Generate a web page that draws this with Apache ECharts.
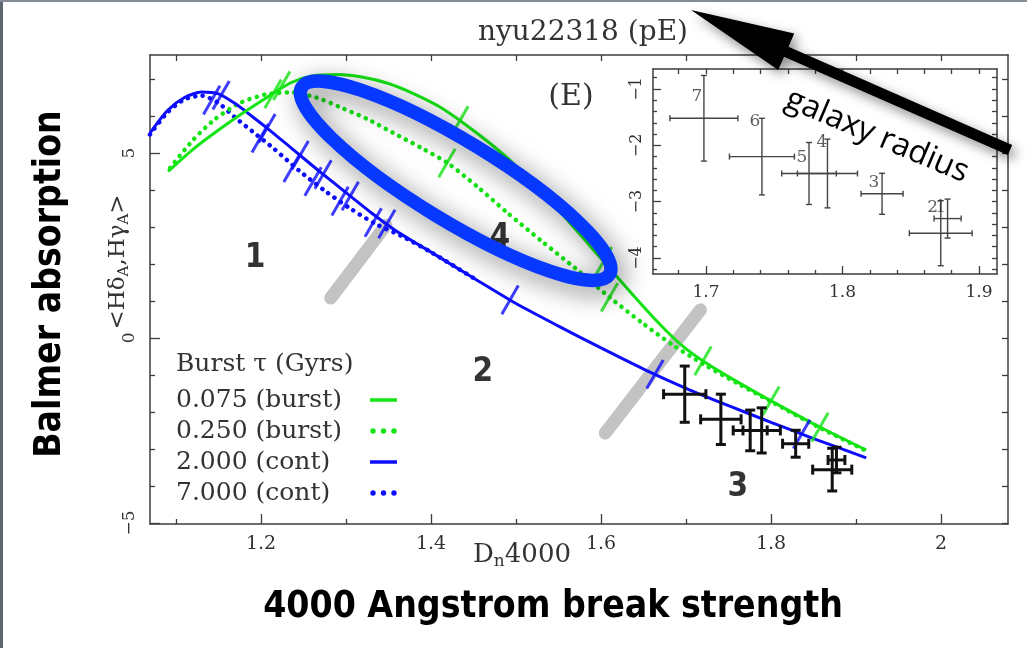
<!DOCTYPE html>
<html>
<head>
<meta charset="utf-8">
<title>nyu22318 (pE)</title>
<script src="https://cdn.jsdelivr.net/npm/echarts@6/dist/echarts.min.js"></script>
<style>
  html, body { margin: 0; padding: 0; background: #fff; }
  #chart { width: 1027px; height: 648px; }
</style>
</head>
<body>
<div id="chart"></div>
<script>
// model tracks, [Dn4000, <HdA,HgA>]
const burst075 = [[1.0906,4.5],[1.12,5.1],[1.15,5.62],[1.18,6.1],[1.21,6.55],[1.235,6.9],[1.26,7.08],
  [1.29,7.12],[1.32,7.05],[1.35,6.88],[1.38,6.6],[1.41,6.25],[1.44,5.78],[1.47,5.25],[1.5,4.65],
  [1.55,3.45],[1.6,2.15],[1.64,1.1],[1.67,0.35],[1.695,-0.2],[1.72,-0.62],[1.76,-1.18],[1.8,-1.7],
  [1.855,-2.38],[1.912,-3.03]];
const burst250 = [[1.093,4.6],[1.12,5.35],[1.145,5.9],[1.175,6.35],[1.205,6.58],[1.235,6.64],
  [1.265,6.5],[1.295,6.22],[1.325,5.92],[1.355,5.55],[1.39,5.12],[1.42,4.72],[1.455,4.08],[1.49,3.38],
  [1.53,2.62],[1.57,1.88],[1.61,1.1],[1.65,0.38],[1.685,-0.2],[1.72,-0.7],[1.76,-1.22],[1.8,-1.72],
  [1.855,-2.4],[1.912,-3.05]];
const cont2000 = [[1.0694,5.54],[1.09,6.15],[1.11,6.5],[1.13,6.65],[1.15,6.6],[1.17,6.33],[1.19,5.98],
  [1.21,5.62],[1.24,5.05],[1.27,4.48],[1.3,3.93],[1.33,3.38],[1.36,2.88],[1.4,2.32],[1.45,1.62],
  [1.5,0.93],[1.55,0.32],[1.6,-0.27],[1.65,-0.84],[1.7,-1.36],[1.75,-1.83],[1.8,-2.28],[1.85,-2.72],
  [1.912,-3.24]];
const cont7000 = [[1.0694,5.5],[1.09,6.1],[1.11,6.45],[1.13,6.55],[1.15,6.35],[1.17,5.95],[1.19,5.58],
  [1.215,5.12],[1.245,4.52],[1.275,3.98],[1.305,3.5],[1.335,3.08],[1.365,2.76],[1.4,2.32],[1.45,1.62]];

// age markers along the tracks
const burst075Ticks = [[1.2243,6.82],[1.434,5.88],[1.603,2.07],[1.72,-0.62],[1.8,-1.7],[1.8576,-2.41]];
const burst250Ticks = [[1.2141,6.6],[1.4188,4.73],[1.61,1.1]];
const cont2000Ticks = [[1.153,6.56],[1.207,5.67],[1.246,4.94],[1.273,4.42],[1.305,3.84],[1.348,3.08],
  [1.493,1.03],[1.6635,-0.98],[1.836,-2.6]];
const cont7000Ticks = [[1.142,6.43],[1.199,5.4],[1.2365,4.6],[1.2612,4.23],[1.293,3.7],[1.332,3.12]];

// radial bins of the galaxy
const binName = ['1', '2', '3', '4', '5', '6', '7'];
const binDn = [1.877, 1.872, 1.829, 1.789, 1.7755, 1.741, 1.6985];
const binDnErr = [0.0099, 0.023, 0.0154, 0.022, 0.02, 0.0238, 0.0249];
const binH = [-3.3, -3.56, -2.86, -2.5, -2.5, -2.2, -1.52];
const binHErr = [0.346, 0.577, 0.364, 0.61, 0.55, 0.68, 0.76];
const binLabelPos = [[1.872,-3.113],[1.866,-3.113],[1.823,-2.669],[1.785,-1.959],[1.7703,-2.225],
  [1.7359,-1.586],[1.6934,-1.142]];

// regions 1-4
const regionName = ['1', '2', '3', '4'];
const regionPos = [[1.193,2.16],[1.461,-0.92],[1.761,-4.03],[1.481,2.7]];
const boundary12 = [[1.282,1.08],[1.347,3.05]];
const boundary23 = [[1.605,-2.57],[1.717,0.76]];
// region 4 highlight: ends of the long axis
const ellipseEnds = [[1.248,6.78],[1.61,1.72]];

const trackNames = ['0.075 (burst)', '0.250 (burst)', '2.000 (cont)', '7.000 (cont)'];

// axis ticks
const xMainMajor = [1.2, 1.4, 1.6, 1.8, 2.0];
const xMainMinor = [1.1, 1.3, 1.5, 1.7, 1.9];
const xMainAll = [1.1, 1.2, 1.3, 1.4, 1.5, 1.6, 1.7, 1.8, 1.9, 2.0];
const yMainMajor = [-5, 0, 5];
const yMainMinor = [-4, -3, -2, -1, 1, 2, 3, 4, 6, 7];
const yMainAll = [-5, -4, -3, -2, -1, 0, 1, 2, 3, 4, 5, 6, 7];
const xInsetMajor = [1.7, 1.8, 1.9];
const xInsetMinor = [1.68, 1.72, 1.74, 1.76, 1.78, 1.82, 1.84, 1.86, 1.88];
const xInsetAll = [1.68, 1.7, 1.72, 1.74, 1.76, 1.78, 1.8, 1.82, 1.84, 1.86, 1.88, 1.9];
const yInsetMajor = [-4, -3, -2, -1];
const yInsetMinor = [-0.8, -1.2, -1.4, -1.6, -1.8, -2.2, -2.4, -2.6, -2.8, -3.2, -3.4, -3.6, -3.8, -4.2];
const yInsetAll = yInsetMajor.concat(yInsetMinor);

const GREEN = '#14e314';
const BLUE = '#0c0cff';
const AX = '#3c3c3c';
const SERIF = '"DejaVu Serif", serif';
const BIG = '"DejaVu Sans Condensed", "DejaVu Sans", sans-serif';

const minus = v => (v < 0 ? '\u2212' + Math.abs(v) : String(v));

function axis(grid, pos, range, ticks, len, opt) {
  opt = opt || {};
  return {
    type: 'value', gridIndex: grid, position: pos, min: range[0], max: range[1],
    axisLine: { show: !!opt.line, onZero: false, lineStyle: { color: AX, width: 1.5 } },
    axisTick: { show: true, inside: true, length: len, customValues: ticks,
      lineStyle: { color: AX, width: 1.3 } },
    axisLabel: opt.labels ? {
      show: true, customValues: opt.labels, rotate: opt.rotate || 0, margin: opt.margin,
      formatter: minus, color: '#333', fontFamily: SERIF, fontSize: opt.size
    } : { show: false },
    splitLine: { show: false }
  };
}

const xMain = [1.0694, 2.0788], yMain = [-5.03, 7.65];
const xInset = [1.6612, 1.9132], yInset = [-4.284, -0.645];

function cross(lw, cap, color) {
  return function (params, api) {
    const x = api.value(0), y = api.value(1), ex = api.value(2), ey = api.value(3);
    const L = api.coord([x - ex, y]), R = api.coord([x + ex, y]);
    const T = api.coord([x, y + ey]), B = api.coord([x, y - ey]);
    const st = { stroke: color, lineWidth: lw };
    const seg = (x1, y1, x2, y2) => ({ type: 'line', shape: { x1, y1, x2, y2 }, style: st });
    return { type: 'group', children: [
      seg(L[0], L[1], R[0], R[1]), seg(T[0], T[1], B[0], B[1]),
      seg(L[0], L[1] - cap, L[0], L[1] + cap), seg(R[0], R[1] - cap, R[0], R[1] + cap),
      seg(T[0] - cap, T[1], T[0] + cap, T[1]), seg(B[0] - cap, B[1], B[0] + cap, B[1])
    ] };
  };
}

const bins = binDn.map((d, i) => [d, binH[i], binDnErr[i], binHErr[i]]);

function track(name, data, color, dotted, z) {
  return {
    name, type: 'line', xAxisIndex: 0, yAxisIndex: 0, data, symbol: 'none', smooth: 0.25,
    silent: true, z,
    lineStyle: dotted ? { color, width: 4.5, type: [0.1, 7.5], cap: 'round' } : { color, width: 3 }
  };
}
function marks(data, color) {
  return {
    type: 'scatter', xAxisIndex: 0, yAxisIndex: 0, data, symbol: 'rect', symbolSize: [3, 33],
    symbolRotate: -30, itemStyle: { color }, silent: true, z: 6
  };
}
function boundary(data) {
  return {
    type: 'line', xAxisIndex: 0, yAxisIndex: 0, data, symbol: 'none', silent: true, z: 1,
    lineStyle: { color: '#c3c3c3', width: 13, cap: 'round' }
  };
}

const option = {
  animation: false,
  backgroundColor: '#fff',
  grid: [
    { left: 150, top: 55, width: 858, height: 469, outerBoundsMode: 'none' },
    { left: 653, top: 69, width: 344, height: 205, show: true, backgroundColor: '#fff',
      borderWidth: 0, outerBoundsMode: 'none' }
  ],
  xAxis: [
    axis(0, 'bottom', xMain, xMainMajor, 10, { line: true, labels: xMainMajor, size: 19, margin: 11 }),
    axis(0, 'bottom', xMain, xMainMinor, 5),
    axis(0, 'top', xMain, xMainAll, 6, { line: true }),
    axis(1, 'bottom', xInset, xInsetMajor, 8, { line: true, labels: xInsetMajor, size: 17, margin: 10 }),
    axis(1, 'bottom', xInset, xInsetMinor, 4),
    axis(1, 'top', xInset, xInsetAll, 5, { line: true })
  ],
  yAxis: [
    axis(0, 'left', yMain, yMainMajor, 10, { line: true, labels: yMainMajor, size: 17, rotate: 90, margin: 12 }),
    axis(0, 'left', yMain, yMainMinor, 5),
    axis(0, 'right', yMain, yMainAll, 6, { line: true }),
    axis(1, 'left', yInset, yInsetMajor, 8, { line: true, labels: yInsetMajor, size: 16, rotate: 90, margin: 8 }),
    axis(1, 'left', yInset, yInsetMinor, 4),
    axis(1, 'right', yInset, yInsetAll, 5, { line: true })
  ],
  series: [
    boundary(boundary12),
    boundary(boundary23),
    track(trackNames[3], cont7000, BLUE, true, 3),
    track(trackNames[2], cont2000, BLUE, false, 4),
    track(trackNames[1], burst250, GREEN, true, 3),
    track(trackNames[0], burst075, GREEN, false, 4),
    marks(cont7000Ticks, BLUE),
    marks(cont2000Ticks, BLUE),
    marks(burst250Ticks, GREEN),
    marks(burst075Ticks, GREEN),
    {
      type: 'custom', xAxisIndex: 0, yAxisIndex: 0, data: bins, encode: { x: 0, y: 1 },
      renderItem: cross(3, 5, '#111'), silent: true, z: 8
    },
    {
      type: 'custom', xAxisIndex: 3, yAxisIndex: 3, data: bins, encode: { x: 0, y: 1 },
      renderItem: cross(1.4, 3, '#444'), silent: true, z: 8
    },
    {
      type: 'scatter', xAxisIndex: 3, yAxisIndex: 3, silent: true, z: 9,
      data: binLabelPos.map((p, i) => ({ value: p, name: binName[i] })),
      symbolSize: 1, itemStyle: { color: 'transparent' },
      label: { show: true, position: 'inside', formatter: '{b}', color: '#333',
        fontFamily: SERIF, fontSize: 17 }
    },
    {
      type: 'scatter', xAxisIndex: 0, yAxisIndex: 0, silent: true, z: 9,
      data: regionPos.map((p, i) => ({ value: p, name: regionName[i] })),
      symbolSize: 1, itemStyle: { color: 'transparent' },
      label: { show: true, position: 'inside', formatter: '{b}', color: '#000',
        fontFamily: BIG, fontWeight: 'bold', fontSize: 33 }
    }
  ]
};

const chart = echarts.init(document.getElementById('chart'));
chart.setOption(option);

// annotations
const g = [];
g.push({ type: 'rect', shape: { x: 0, y: 0, width: 3, height: 648 }, style: { fill: '#5d6872' }, z: 200 });
g.push({ type: 'rect', shape: { x: 0, y: 0, width: 1027, height: 2 }, style: { fill: '#848d95' }, z: 200 });

function txt(text, x, y, font, extra) {
  return Object.assign({
    type: 'text', x, y, z: 120, silent: true,
    style: Object.assign({ text, x: 0, y: 0, align: 'center', verticalAlign: 'middle', fill: '#222' }, font)
  }, extra || {});
}

g.push(txt('nyu22318 (pE)', 583, 33, { fontFamily: SERIF, fontSize: 28, fill: '#333' }));
g.push(txt('(E)', 571, 97, { fontFamily: SERIF, fontSize: 30, fill: '#333' }));
g.push(txt('<H\u03b4{s|A},H\u03b3{s|A}>', 118, 262, {
  fontFamily: SERIF, fontSize: 23, fill: '#333',
  rich: { s: { fontFamily: SERIF, fontSize: 15, fill: '#333', padding: [12, 0, 0, 0] } }
}, { rotation: Math.PI / 2 }));
g.push(txt('D{s|n}4000', 522, 555, {
  fontFamily: SERIF, fontSize: 26, fill: '#333',
  rich: { s: { fontFamily: SERIF, fontSize: 17, fill: '#333', padding: [14, 0, 0, 0] } }
}));
g.push(txt('Balmer absorption', 50, 284, { fontFamily: BIG, fontWeight: 'bold', fontSize: 37, fill: '#000' },
  { rotation: Math.PI / 2 }));
g.push(txt('4000 Angstrom break strength', 553, 607,
  { fontFamily: BIG, fontWeight: 'bold', fontSize: 37, fill: '#000' }));

// legend
g.push(txt('Burst \u03c4 (Gyrs)', 176, 364, { fontFamily: SERIF, fontSize: 25, fill: '#333', align: 'left' }));
const legendColor = [GREEN, GREEN, BLUE, BLUE];
const legendDotted = [false, true, false, true];
trackNames.forEach((name, i) => {
  const y = 400 + 31 * i;
  g.push(txt(name, 176, y, { fontFamily: SERIF, fontSize: 25, fill: '#333', align: 'left' }));
  if (legendDotted[i]) {
    [373, 383.5, 394].forEach(cx => g.push({ type: 'circle', z: 120, silent: true,
      shape: { cx, cy: y, r: 2.7 }, style: { fill: legendColor[i] } }));
  } else {
    g.push({ type: 'line', z: 120, silent: true, shape: { x1: 370, y1: y, x2: 397, y2: y },
      style: { stroke: legendColor[i], lineWidth: 3.5 } });
  }
});

// ellipse round region 4, placed from data coordinates
const e0 = chart.convertToPixel({ xAxisIndex: 0, yAxisIndex: 0 }, ellipseEnds[0]);
const e1 = chart.convertToPixel({ xAxisIndex: 0, yAxisIndex: 0 }, ellipseEnds[1]);
const ang = Math.atan2(e1[1] - e0[1], e1[0] - e0[0]);
g.push({
  type: 'ellipse', z: 110, silent: true,
  x: (e0[0] + e1[0]) / 2, y: (e0[1] + e1[1]) / 2, rotation: -ang,
  shape: { cx: 0, cy: 0, rx: Math.hypot(e1[0] - e0[0], e1[1] - e0[1]) / 2, ry: 40 },
  style: { fill: 'none', stroke: '#0638ff', lineWidth: 13.5,
    shadowBlur: 24, shadowColor: 'rgba(0,0,0,0.5)', shadowOffsetX: 6, shadowOffsetY: 7 }
});

// galaxy radius arrow
const tip = [691, 10], tail = [1010, 150];
const L = Math.hypot(tail[0] - tip[0], tail[1] - tip[1]);
const u = [(tail[0] - tip[0]) / L, (tail[1] - tip[1]) / L], n = [-u[1], u[0]];
const base = [tip[0] + u[0] * 104, tip[1] + u[1] * 104];
const P = (p, k) => [p[0] + n[0] * k, p[1] + n[1] * k];
g.push({
  type: 'polygon', z: 130, silent: true,
  shape: { points: [tip, P(base, 20), P(base, 5.5), P(tail, 5.5), P(tail, -5.5), P(base, -5.5), P(base, -20)] },
  style: { fill: '#000', shadowBlur: 12, shadowColor: 'rgba(0,0,0,0.45)', shadowOffsetX: 4, shadowOffsetY: 5 }
});
g.push(txt('galaxy radius', 877, 136, { fontFamily: '"Open Sans", sans-serif', fontSize: 32, fill: '#000' },
  { rotation: -23 * Math.PI / 180, z: 131 }));

chart.setOption({ graphic: g });
</script>
</body>
</html>
